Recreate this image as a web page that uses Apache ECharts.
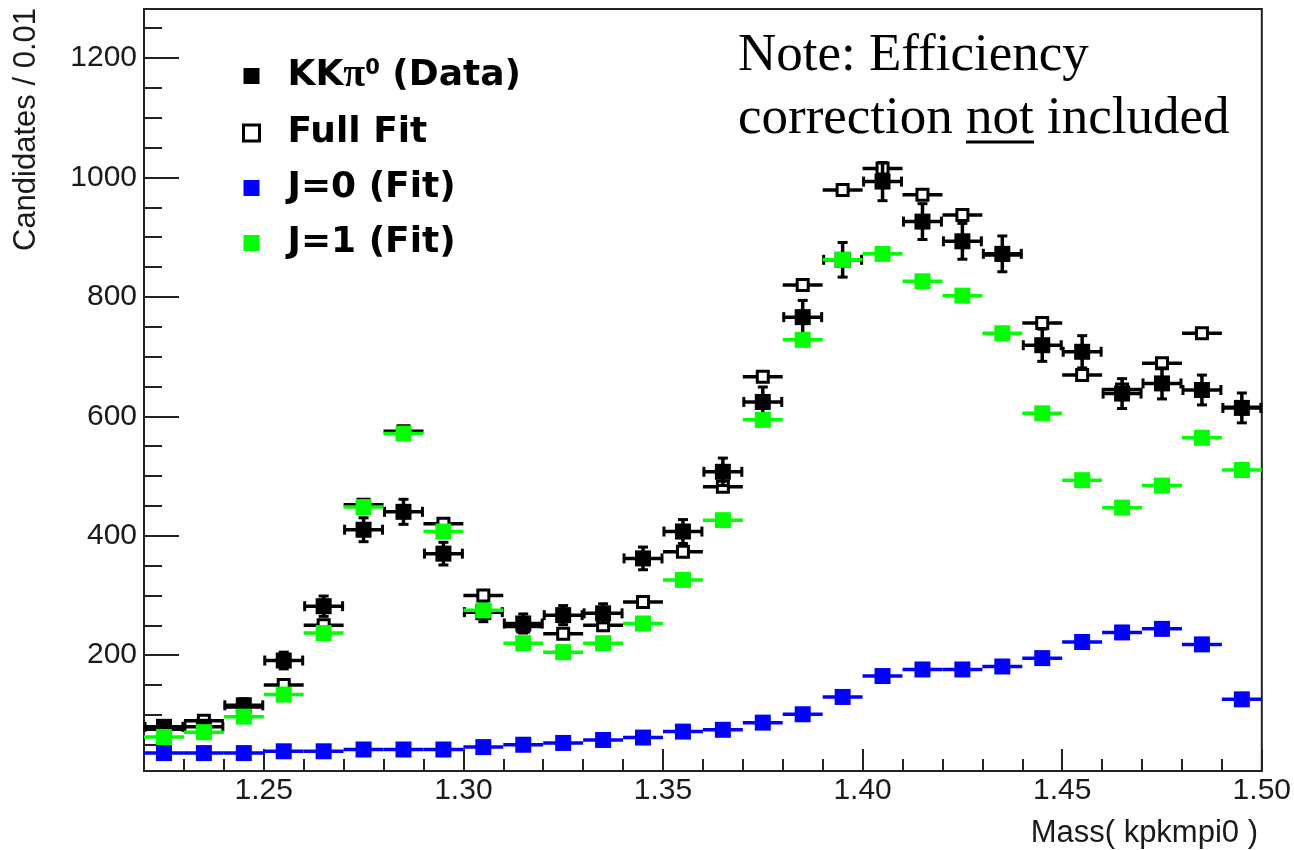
<!DOCTYPE html>
<html>
<head>
<meta charset="utf-8">
<title>KKπ0 mass spectrum</title>
<script src="https://cdn.jsdelivr.net/npm/echarts@6.0.0/dist/echarts.min.js"></script>
<style>
  html, body { margin: 0; padding: 0; background: #fff; }
  #chart { width: 1294px; height: 850px; }
</style>
</head>
<body>
<div id="chart"></div>
<script>
// Bin centres of Mass(kpkmpi0), bin width 0.01
const massBins = [1.225, 1.235, 1.245, 1.255, 1.265, 1.275, 1.285, 1.295, 1.305, 1.315,
                  1.325, 1.335, 1.345, 1.355, 1.365, 1.375, 1.385, 1.395, 1.405, 1.415,
                  1.425, 1.435, 1.445, 1.455, 1.465, 1.475, 1.485, 1.495];

// KKπ0 data: candidates per bin and their statistical errors
const dataCounts = [80, 80, 116, 191, 282, 410, 440, 370, 272, 253,
                    267, 270, 362, 407, 507, 624, 766, 862, 993, 926,
                    893, 872, 719, 708, 638, 655, 644, 614];
const dataErrors = [9, 9, 11, 14, 17, 20, 21, 19, 16, 16,
                    16, 16, 19, 20, 23, 25, 28, 29, 32, 30,
                    30, 30, 27, 27, 25, 26, 25, 25];

// Fit results per bin
const fullFit = [76, 90, 113, 150, 250, 452, 575, 420, 300, 248,
                 236, 250, 289, 373, 482, 666, 820, 979, 1015, 971,
                 937, 870, 756, 669, 645, 689, 739, 615];
const fitJ0 = [36, 36, 36, 39, 39, 42, 42, 42, 46, 50,
               53, 58, 62, 72, 75, 87, 101, 130, 165, 176,
               176, 181, 195, 222, 238, 244, 218, 126];
const fitJ1 = [63, 71, 97, 134, 237, 448, 571, 407, 275, 220,
               205, 220, 253, 326, 426, 594, 728, 862, 872, 826,
               802, 739, 605, 493, 447, 484, 564, 510];

// Axis ticks
const xMajorTicks = [1.25, 1.30, 1.35, 1.40, 1.45, 1.50];
const xMinorTicks = [1.23, 1.24, 1.26, 1.27, 1.28, 1.29, 1.31, 1.32, 1.33, 1.34,
                     1.36, 1.37, 1.38, 1.39, 1.41, 1.42, 1.43, 1.44, 1.46, 1.47,
                     1.48, 1.49];
const yMajorTicks = [200, 400, 600, 800, 1000, 1200];
const yMinorTicks = [50, 100, 150, 250, 300, 350, 450, 500, 550, 650, 700, 750,
                     850, 900, 950, 1050, 1100, 1150, 1250];

const X_MIN = 1.22, X_MAX = 1.50;
const Y_MIN = 6, Y_MAX = 1282;
const HALF_BIN = 0.005;

const NAME_DATA = 'KKπ0 (Data)';
const NAME_FULL = 'Full Fit';
const NAME_J0 = 'J=0 (Fit)';
const NAME_J1 = 'J=1 (Fit)';

function rows(values, errors) {
  return massBins.map((m, i) => [m, values[i], errors ? errors[i] : 0]);
}

// Draws one histogram point: horizontal bin bar, optional vertical error bar with caps, marker
function pointRenderer(kind, color) {
  return function (params, api) {
    const x = api.value(0), y = api.value(1), err = api.value(2);
    const c = api.coord([x, y]);
    const l = api.coord([x - HALF_BIN, y]);
    const r = api.coord([x + HALF_BIN, y]);
    const children = [];
    const bw = 3.5;
    children.push({
      type: 'line',
      shape: { x1: l[0], y1: c[1], x2: r[0], y2: c[1] },
      style: { stroke: color, lineWidth: bw }
    });
    if (kind === 'data') {
      const top = api.coord([x, y + err]);
      const bot = api.coord([x, y - err]);
      const cap = 5;
      children.push({ type: 'line', shape: { x1: c[0], y1: top[1], x2: c[0], y2: bot[1] },
                      style: { stroke: color, lineWidth: bw } });
      children.push({ type: 'line', shape: { x1: c[0] - cap, y1: top[1], x2: c[0] + cap, y2: top[1] },
                      style: { stroke: color, lineWidth: 3 } });
      children.push({ type: 'line', shape: { x1: c[0] - cap, y1: bot[1], x2: c[0] + cap, y2: bot[1] },
                      style: { stroke: color, lineWidth: 3 } });
      children.push({ type: 'line', shape: { x1: l[0] + 1, y1: c[1] - cap, x2: l[0] + 1, y2: c[1] + cap },
                      style: { stroke: color, lineWidth: 3 } });
      children.push({ type: 'line', shape: { x1: r[0] - 1, y1: c[1] - cap, x2: r[0] - 1, y2: c[1] + cap },
                      style: { stroke: color, lineWidth: 3 } });
    }
    if (kind === 'open') {
      const s = 11;
      children.push({ type: 'rect', shape: { x: c[0] - s / 2, y: c[1] - s / 2, width: s, height: s },
                      style: { fill: '#fff', stroke: color, lineWidth: 3 } });
    } else {
      const s = 16;
      children.push({ type: 'rect', shape: { x: c[0] - s / 2, y: c[1] - s / 2, width: s, height: s },
                      style: { fill: color } });
    }
    return { type: 'group', children: children };
  };
}

function customSeries(name, kind, color, values, errors) {
  return {
    name: name,
    type: 'custom',
    color: color,
    renderItem: pointRenderer(kind, color),
    data: rows(values, errors),
    encode: { x: 0, y: 1 },
    silent: true,
    animation: false
  };
}

const labelFont = { fontFamily: '"Liberation Sans", Arial, sans-serif', fontSize: 30, color: '#1a1a1a' };

const chart = echarts.init(document.getElementById('chart'), null, { renderer: 'canvas' });

chart.setOption({
  backgroundColor: '#fff',
  animation: false,
  grid: {
    left: 144, right: 31, top: 9, bottom: 79,
    show: true, borderColor: '#222', borderWidth: 2, backgroundColor: 'transparent'
  },
  xAxis: [
    {
      type: 'value', min: X_MIN, max: X_MAX, position: 'bottom',
      axisLine: { show: false },
      splitLine: { show: false },
      axisTick: { show: true, inside: true, length: 22, customValues: xMajorTicks,
                  lineStyle: { color: '#222', width: 2 } },
      axisLabel: { show: true, customValues: xMajorTicks, margin: 5,
                   formatter: v => v.toFixed(2), ...labelFont }
    },
    {
      type: 'value', min: X_MIN, max: X_MAX, position: 'bottom',
      axisLine: { show: false },
      splitLine: { show: false },
      axisTick: { show: true, inside: true, length: 12, customValues: xMinorTicks,
                  lineStyle: { color: '#222', width: 2 } },
      axisLabel: { show: false }
    }
  ],
  yAxis: [
    {
      type: 'value', min: Y_MIN, max: Y_MAX, position: 'left',
      axisLine: { show: false },
      splitLine: { show: false },
      axisTick: { show: true, inside: true, length: 35, customValues: yMajorTicks,
                  lineStyle: { color: '#222', width: 2 } },
      axisLabel: { show: true, customValues: yMajorTicks, margin: 7,
                   formatter: v => String(Math.round(v)), ...labelFont }
    },
    {
      type: 'value', min: Y_MIN, max: Y_MAX, position: 'left',
      axisLine: { show: false },
      splitLine: { show: false },
      axisTick: { show: true, inside: true, length: 18, customValues: yMinorTicks,
                  lineStyle: { color: '#222', width: 2 } },
      axisLabel: { show: false }
    }
  ],
  legend: {
    orient: 'vertical',
    left: 242,
    top: 56,
    padding: 0,
    itemWidth: 16,
    itemHeight: 16,
    itemGap: 19,
    selectedMode: false,
    textStyle: {
      fontFamily: '"DejaVu Sans", sans-serif',
      fontWeight: 'bold',
      fontSize: 36,
      lineHeight: 36,
      color: '#000',
      padding: [0, 0, 0, 23],
      rich: {
        b: { fontFamily: '"DejaVu Sans", sans-serif', fontWeight: 'bold', fontSize: 36, lineHeight: 36, color: '#000' },
        pi: { fontFamily: '"Liberation Serif", serif', fontSize: 40, lineHeight: 36, color: '#000' },
        sup: { fontFamily: '"DejaVu Sans", sans-serif', fontWeight: 'bold', fontSize: 21, lineHeight: 21,
               verticalAlign: 'top', color: '#000' }
      }
    },
    formatter: function (name) {
      if (name === NAME_DATA) return '{b|KK}{pi|π}{sup|0}{b| (Data)}';
      return '{b|' + name + '}';
    },
    data: [
      { name: NAME_DATA, icon: 'rect', itemStyle: { color: '#000' } },
      { name: NAME_FULL, icon: 'rect', itemStyle: { color: '#fff', borderColor: '#000', borderWidth: 3 } },
      { name: NAME_J0, icon: 'rect', itemStyle: { color: '#0000ff' } },
      { name: NAME_J1, icon: 'rect', itemStyle: { color: '#00ff00' } }
    ]
  },
  graphic: [
    {
      type: 'text', x: 26, y: 8, rotation: Math.PI / 2,
      style: { text: 'Candidates / 0.01', font: '31px "Liberation Sans", Arial, sans-serif',
               fill: '#1a1a1a', align: 'right', verticalAlign: 'middle' }
    },
    {
      type: 'text', x: 1258, y: 833,
      style: { text: 'Mass( kpkmpi0 )', font: '31px "Liberation Sans", Arial, sans-serif',
               fill: '#1a1a1a', align: 'right', verticalAlign: 'middle' }
    },
    {
      type: 'text', x: 738, y: 56,
      style: { text: 'Note: Efficiency', font: '53px "Liberation Serif", "Times New Roman", serif',
               fill: '#000', align: 'left', verticalAlign: 'middle' }
    },
    {
      type: 'text', x: 738, y: 119,
      style: { text: 'correction not included', font: '53px "Liberation Serif", "Times New Roman", serif',
               fill: '#000', align: 'left', verticalAlign: 'middle' }
    },
    {
      type: 'line', shape: { x1: 966, y1: 142, x2: 1034, y2: 142 },
      style: { stroke: '#000', lineWidth: 3 }
    }
  ],
  series: [
    customSeries(NAME_FULL, 'open', '#000', fullFit),
    customSeries(NAME_DATA, 'data', '#000', dataCounts, dataErrors),
    customSeries(NAME_J0, 'fill', '#0000ff', fitJ0),
    customSeries(NAME_J1, 'fill', '#00ff00', fitJ1)
  ]
});
</script>
</body>
</html>
